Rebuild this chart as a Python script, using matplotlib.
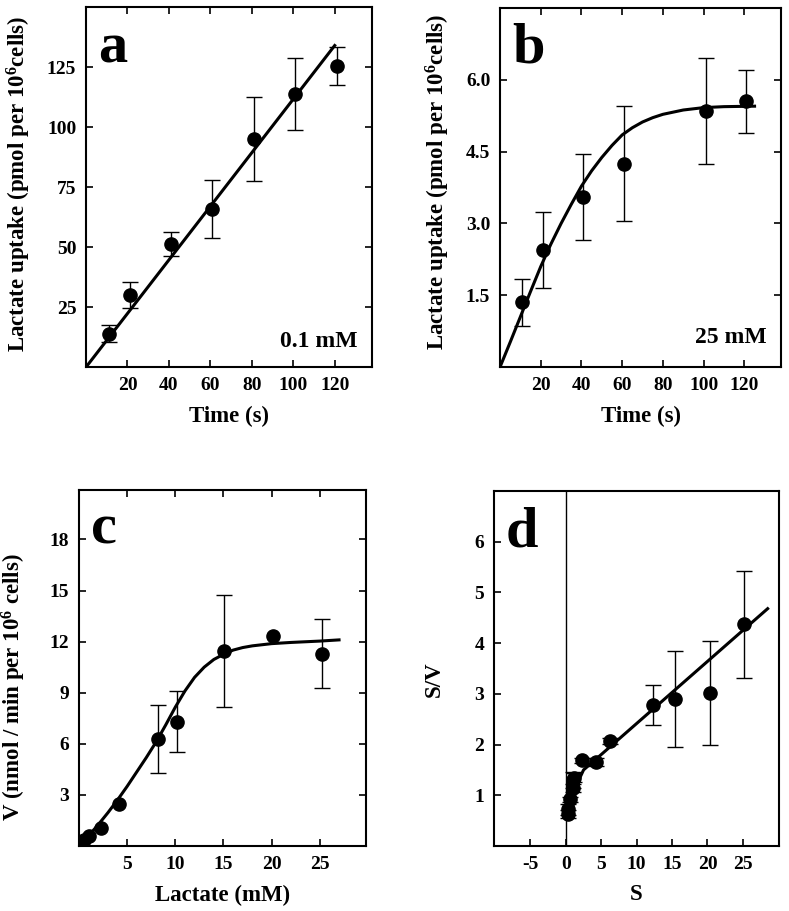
import numpy as np
import matplotlib
matplotlib.use("Agg")
import matplotlib.pyplot as plt
from matplotlib.ticker import FormatStrFormatter

plt.rcParams['font.family'] = ['Liberation Serif', 'DejaVu Serif']
plt.rcParams['font.weight'] = 'bold'
plt.rcParams['mathtext.fontset'] = 'custom'
plt.rcParams['mathtext.rm'] = 'Liberation Serif:bold'
plt.rcParams['mathtext.default'] = 'rm'
plt.rcParams['axes.unicode_minus'] = False

# panel a: uptake at 0.1 mM
a_time = [11, 21, 41, 61, 81, 101, 121]
a_uptake = [14, 30, 51.5, 66, 95, 114, 125.5]
a_err = [3.5, 5.5, 5, 12, 17.5, 15, 8]
a_fit_x = [0, 120]
a_fit_y = [0, 134]

# panel b: uptake at 25 mM
b_time = [11, 21, 41, 61, 101, 121]
b_uptake = [1.35, 2.45, 3.55, 4.25, 5.35, 5.55]
b_err = [0.5, 0.8, 0.9, 1.2, 1.1, 0.65]
b_fit_x = [0, 5, 10, 15, 20, 25, 30, 35, 40, 45, 50, 55, 60, 65, 70, 75, 80, 90, 100, 110, 125]
b_fit_y = [0, 0.52, 1.05, 1.58, 2.1, 2.57, 3.0, 3.4, 3.78, 4.1, 4.38, 4.63, 4.85, 5.0, 5.12,
           5.21, 5.28, 5.37, 5.42, 5.44, 5.45]

# panel c: rate vs lactate
c_lac = [0.2, 0.5, 1.0, 2.3, 4.2, 8.2, 10.2, 15.1, 20.1, 25.2]
c_v = [0.1, 0.35, 0.6, 1.05, 2.45, 6.3, 7.3, 11.45, 12.35, 11.3]
c_err = [0, 0, 0, 0, 0, 2.0, 1.8, 3.3, 0, 2.0]
c_fit_x = [0, 1, 2, 3, 4, 5, 6, 7, 8, 9, 10, 11, 12, 13, 14, 15, 16, 17, 18, 20, 22, 25, 27]
c_fit_y = [0, 0.6, 1.25, 1.95, 2.7, 3.5, 4.35, 5.2, 6.1, 7.1, 8.15, 9.1, 9.9, 10.5, 10.95,
           11.25, 11.5, 11.65, 11.75, 11.88, 11.95, 12.03, 12.1]

# panel d: S/V vs S
d_s = [0.25, 0.3, 0.6, 1.0, 1.0, 1.2, 2.3, 4.3, 6.3, 12.3, 15.4, 20.4, 25.2]
d_sv = [0.63, 0.72, 0.92, 1.15, 1.3, 1.35, 1.69, 1.66, 2.07, 2.78, 2.9, 3.02, 4.37]
d_err = [0.08, 0.1, 0.05, 0.08, 0.15, 0.08, 0.05, 0.08, 0.05, 0.4, 0.95, 1.03, 1.06]
d_fit_x = [0.5, 1.0, 1.5, 2.0, 2.5, 3.5, 28.5]
d_fit_y = [0.75, 0.95, 1.15, 1.35, 1.5, 1.62, 4.68]

LABEL_FS = 16.5
TICK_FS = 14

fig = plt.figure(figsize=(7.89, 9.11), dpi=100)
ax_a = fig.add_axes([0.109, 0.597, 0.3625, 0.3952])
ax_b = fig.add_axes([0.6337, 0.597, 0.3562, 0.3942])
ax_c = fig.add_axes([0.1001, 0.0714, 0.3638, 0.3907])
ax_d = fig.add_axes([0.6261, 0.0714, 0.3612, 0.3896])

mk = dict(fmt='o', color='black', markersize=9.5, ecolor='black', elinewidth=1.0,
          capsize=6, capthick=1.0, zorder=3)


def style(ax, letter, ly, xlab, ylab, ylx, yly, mirror=True):
    for sp in ax.spines.values():
        sp.set_linewidth(1.5)
    ax.tick_params(direction='in', top=mirror, right=mirror, length=5, width=1.2,
                   labelsize=TICK_FS, pad=7)
    for t in ax.get_xticklabels() + ax.get_yticklabels():
        t.set_fontweight('bold')
    ax.set_xlabel(xlab, fontsize=LABEL_FS, fontweight='bold')
    ax.set_ylabel(ylab, fontsize=LABEL_FS, fontweight='bold')
    ax.xaxis.set_label_coords(0.5, -0.108)
    ax.yaxis.set_label_coords(ylx, yly)
    ax.text(0.042, ly, letter, transform=ax.transAxes, fontsize=42,
            fontweight='bold', ha='left', va='baseline')


# a
ax_a.errorbar(a_time, a_uptake, yerr=a_err, **mk)
ax_a.plot(a_fit_x, a_fit_y, color='black', lw=2.2)
ax_a.set_xlim(0, 138)
ax_a.set_ylim(0, 150)
ax_a.set_xticks([20, 40, 60, 80, 100, 120])
ax_a.set_yticks([25, 50, 75, 100, 125])
ax_a.text(0.951, 0.056, '0.1 mM', transform=ax_a.transAxes, fontsize=17,
          fontweight='bold', ha='right', va='baseline')
style(ax_a, 'a', 0.847, 'Time (s)', 'Lactate uptake (pmol per 10$^{6}$cells)', -0.185, 0.51)

# b
ax_b.errorbar(b_time, b_uptake, yerr=b_err, **mk)
ax_b.plot(b_fit_x, b_fit_y, color='black', lw=2.2)
ax_b.set_xlim(0, 138)
ax_b.set_ylim(0, 7.5)
ax_b.set_xticks([20, 40, 60, 80, 100, 120])
ax_b.set_yticks([1.5, 3.0, 4.5, 6.0])
ax_b.yaxis.set_major_formatter(FormatStrFormatter('%.1f'))
ax_b.text(0.95, 0.067, '25 mM', transform=ax_b.transAxes, fontsize=17,
          fontweight='bold', ha='right', va='baseline')
style(ax_b, 'b', 0.847, 'Time (s)', 'Lactate uptake (pmol per 10$^{6}$cells)', -0.171, 0.515)

# c
c_yerr = [e if e > 0 else np.nan for e in c_err]
ax_c.errorbar(c_lac, c_v, yerr=c_yerr, **mk)
ax_c.plot(c_fit_x, c_fit_y, color='black', lw=2.2)
ax_c.set_xlim(0, 29.8)
ax_c.set_ylim(0, 20.9)
ax_c.set_xticks([5, 10, 15, 20, 25])
ax_c.set_yticks([3, 6, 9, 12, 15, 18])
style(ax_c, 'c', 0.851, 'Lactate (mM)', 'V (nmol / min per 10$^{6}$ cells)', -0.178, 0.447)

# d
ax_d.axvline(0, color='black', lw=1.0, zorder=1)
ax_d.errorbar(d_s, d_sv, yerr=d_err, **mk)
ax_d.plot(d_fit_x, d_fit_y, color='black', lw=2.2)
ax_d.set_xlim(-10.15, 30.1)
ax_d.set_ylim(0, 7)
ax_d.set_xticks([-5, 0, 5, 10, 15, 20, 25])
ax_d.set_yticks([1, 2, 3, 4, 5, 6])
style(ax_d, 'd', 0.843, 'S', 'S/V', -0.172, 0.47, mirror=False)

fig.savefig('out.png', dpi=100)
